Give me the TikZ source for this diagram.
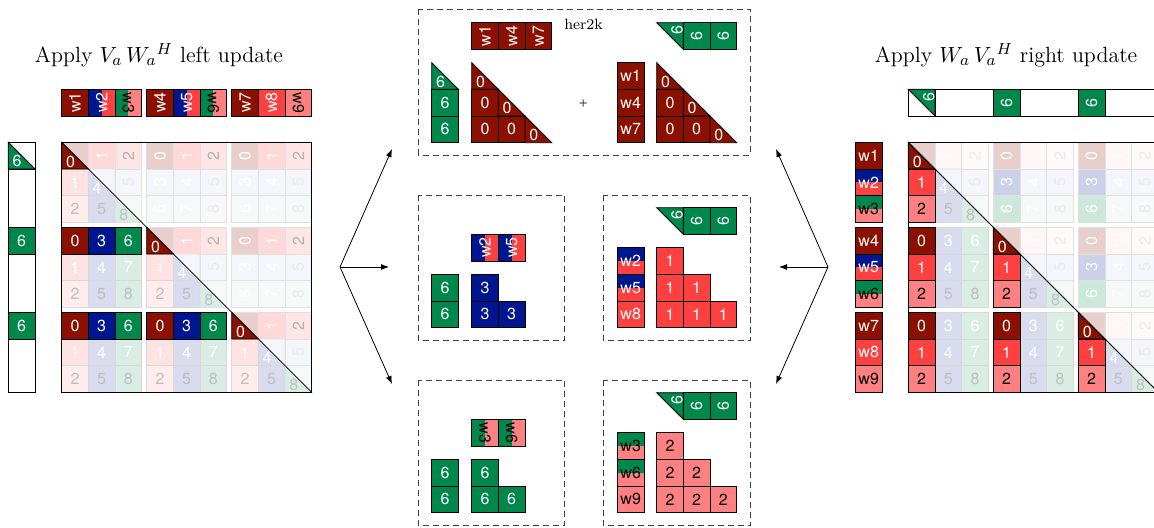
\documentclass[tikz,border=0pt]{standalone}
\usepackage{fontspec}
\newfontfamily\cellfont{TeX Gyre Heros}
\usetikzlibrary{arrows.meta}
\definecolor{dkred}{RGB}{139,16,0}
\definecolor{cblue}{RGB}{0,22,145}
\definecolor{cgreen}{RGB}{0,135,76}
\definecolor{cred}{RGB}{255,64,64}
\definecolor{cpink}{RGB}{255,128,128}
\newcommand\cfam[2]{\ifcase#2 \ifcase#1 dkred\or cred\else cpink\fi\or cblue\else cgreen\fi}
\tikzset{
  ctext/.style={font=\cellfont\fontsize{8}{9}\selectfont, inner sep=0pt},
  cellb/.style={draw=black, line width=0.4pt},
  panel/.style={draw=black!75, dash pattern=on 3pt off 2pt, line width=0.4pt},
  conn/.style={-{Latex[length=4pt,width=3pt]}, line width=0.4pt},
}
\newcommand\Cell[6]{%
 \draw[cellb,fill=#4] (#2,#3) rectangle ++(26.667,26.667);
 \node[ctext,text=#5] (#1) at ({#2+13.333},{#3+13.333}) {#6};}
\newcommand\RCell[7][90]{%
 \draw[cellb,fill=#5] (#3,#4) rectangle ++(26.667,26.667);
 \node[ctext,text=#6,rotate=#1] (#2) at ({#3+13.333},{#4+13.333}) {#7};}
\newcommand\VSplitCell[8][90]{%
 \fill[#5] (#3,#4) rectangle ++(13.333,26.667);
 \fill[#6] ({#3+13.333},#4) rectangle ++(13.333,26.667);
 \draw[cellb] (#3,#4) rectangle ++(26.667,26.667);
 \node[ctext,text=#7,rotate=#1] (#2) at ({#3+13.333},{#4+13.333}) {#8};}
\newcommand\HSplitCell[7]{%
 \fill[#4] (#2,#3) rectangle ++(26.667,13.333);
 \fill[#5] (#2,{#3+13.333}) rectangle ++(26.667,13.333);
 \draw[cellb] (#2,#3) rectangle ++(26.667,26.667);
 \node[ctext,text=#6] (#1) at ({#2+13.333},{#3+13.333}) {#7};}
\newcommand\TriLL[5]{%
 \draw[cellb,fill=#4] (#2,#3) -- ({#2+26.667},{#3+26.667}) -- (#2,{#3+26.667}) -- cycle;
 \node[ctext,text=white,anchor=base west] (#1) at ({#2+4},{#3+24.5}) {#5};}
\newcommand\TriUR[5]{%
 \draw[cellb,fill=#4] (#2,#3) -- ({#2+26.667},#3) -- ({#2+26.667},{#3+26.667}) -- cycle;
 \node[ctext,text=white,rotate=90] (#1) at ({#2+20.5},{#3+7.5}) {#5};}
% matrix: #1 X0, #2 Y0, #3 mode (0 left,1 right), #4 pass, #5 prefix
\newcommand\drawmatrix[5]{%
\foreach \ri in {0,...,8}{\foreach \ci in {0,...,8}{%
 \pgfmathtruncatemacro\rr{mod(\ri,3)}%
 \pgfmathtruncatemacro\cc{mod(\ci,3)}%
 \pgfmathsetmacro\xa{#1+\ci*26.667+int(\ci/3)*5}%
 \pgfmathsetmacro\ya{#2+\ri*26.667+int(\ri/3)*5}%
 \pgfmathsetmacro\xb{\xa+26.667}%
 \pgfmathsetmacro\yb{\ya+26.667}%
 \pgfmathsetmacro\xm{\xa+13.333}%
 \pgfmathsetmacro\ym{\ya+13.333}%
 \ifnum\ri>\ci\relax
   \pgfmathtruncatemacro\val{\rr+3*\cc}%
   \ifnum#3=0 \pgfmathtruncatemacro\isfull{\rr==0}\else\pgfmathtruncatemacro\isfull{\cc==0}\fi
   \ifnum\isfull=#4\relax
     \ifnum\isfull=1 \def\lvl{100}\def\tlvl{100}\def\dlvl{100}\else\def\lvl{15}\def\tlvl{25}\def\dlvl{15}\fi
     \edef\cname{\cfam{\rr}{\cc}}%
     \colorlet{cf}{\cname!\lvl!white}%
     \ifnum\rr=2 \colorlet{ct}{black!\tlvl!white}\else\colorlet{ct}{white}\fi
     \draw[line width=0.4pt,fill=cf,draw=black!\dlvl!white] (\xa,\ya) rectangle (\xb,\yb);
     \node[ctext,text=ct] (#5-\ri-\ci) at (\xm,\ym) {\val};
   \fi
 \else
  \ifnum\ri=\ci\relax
   \pgfmathtruncatemacro\val{4*\rr}%
   \edef\cname{\cfam{\rr}{\rr}}%
   \ifnum#4=0
     \ifnum\rr=0 \def\lvl{20}\else\def\lvl{4}\fi
     \colorlet{cf}{\cname!\lvl!white}%
     \draw[line width=0.4pt,fill=cf,draw=black!12!white] (\xa,\ya) -- (\xb,\ya) -- (\xb,\yb) -- cycle;
     \ifnum\rr>0
       \colorlet{cf}{\cname!15!white}%
       \ifnum\rr=2 \colorlet{ct}{black!25!white}\else\colorlet{ct}{white}\fi
       \draw[line width=0.4pt,fill=cf,draw=black!15!white] (\xa,\ya) -- (\xb,\yb) -- (\xa,\yb) -- cycle;
       \node[ctext,text=ct,anchor=base west] (#5-\ri-\ci) at (\xa+4,\yb-2) {\val};
     \fi
   \else
     \ifnum\rr=0
       \draw[line width=0.4pt,fill=\cname] (\xa,\ya) -- (\xb,\yb) -- (\xa,\yb) -- cycle;
       \node[ctext,text=white,anchor=base west] (#5-\ri-\ci) at (\xa+4,\yb-2) {\val};
     \fi
   \fi
  \else
   \ifnum#4=0
     \pgfmathtruncatemacro\val{\cc+3*\rr}%
     \ifnum#3=0 \pgfmathtruncatemacro\ismed{\rr==0}\else\pgfmathtruncatemacro\ismed{\cc==0}\fi
     \ifnum\ismed=1 \def\lvl{20}\def\tlvl{30}\else\def\lvl{4}\def\tlvl{8}\fi
     \edef\cname{\cfam{\cc}{\rr}}%
     \colorlet{cf}{\cname!\lvl!white}%
     \ifnum\cc=2 \colorlet{ct}{black!\tlvl!white}\else\colorlet{ct}{white}\fi
     \draw[line width=0.4pt,fill=cf,draw=black!12!white] (\xa,\ya) rectangle (\xb,\yb);
     \node[ctext,text=ct,rotate=90] (#5-\ri-\ci) at (\xm,\ym) {\val};
   \fi
  \fi
 \fi
}}}
\begin{document}
\begin{tikzpicture}[x=0.5pt,y=-0.5pt]
\useasboundingbox (0,0) rectangle (1154,527);
\clip (0,0) rectangle (1154,527);
% titles
\node[font=\fontsize{11}{13}\selectfont] (titleL) at (159,55) {Apply $V_a\,W_a{}^H$ left update};
\node[font=\fontsize{11}{13}\selectfont] (titleR) at (1006,55) {Apply $W_a\,V_a{}^H$ right update};

% ---------- left picture ----------
\drawmatrix{61.667}{142.333}{0}{0}{L}
\drawmatrix{61.667}{142.333}{0}{1}{L}
\draw[line width=0.4pt] (61.667,142.333) -- ++(250,250);
\draw[line width=0.8pt] (61.667,142.333) rectangle ++(250,250);
% top W row
\RCell{tw1}{61.667}{89.333}{dkred}{white}{w1}
\VSplitCell{tw2}{88.333}{89.333}{cblue}{cred}{white}{w2}
\VSplitCell[-90]{tw3}{115}{89.333}{cgreen}{cpink}{black}{w3}
\RCell{tw4}{146.667}{89.333}{dkred}{white}{w4}
\VSplitCell{tw5}{173.333}{89.333}{cblue}{cred}{white}{w5}
\VSplitCell[-90]{tw6}{200}{89.333}{cgreen}{cpink}{black}{w6}
\RCell{tw7}{231.667}{89.333}{dkred}{white}{w7}
\RCell{tw8}{258.333}{89.333}{cred}{white}{w8}
\RCell[-90]{tw9}{285}{89.333}{cpink}{black}{w9}
% left V column
\draw[cellb,fill=white] (8.333,142.333) rectangle (35,392.333);
\draw[cellb] (8.333,169) -- (35,169);
\TriLL{lv0}{8.333}{142.333}{cgreen}{6}
\Cell{lv3}{8.333}{227.333}{cgreen}{white}{6}
\Cell{lv6}{8.333}{312.333}{cgreen}{white}{6}

% ---------- right picture ----------
\drawmatrix{908.333}{142.333}{1}{0}{R}
\drawmatrix{908.333}{142.333}{1}{1}{R}
\draw[line width=0.4pt] (908.333,142.333) -- ++(250,250);
\draw[line width=0.8pt] (908.333,142.333) rectangle ++(250,250);
% right V row
\draw[cellb,fill=white] (908.333,89.333) rectangle (1158.333,116);
\draw[cellb] (935,89.333) -- (935,116);
\TriUR{rv0}{908.333}{89.333}{cgreen}{6}
\RCell{rv3}{993.333}{89.333}{cgreen}{white}{6}
\RCell{rv6}{1078.333}{89.333}{cgreen}{white}{6}
% right W column
\Cell{rw1}{855.333}{142.333}{dkred}{white}{w1}
\HSplitCell{rw2}{855.333}{169}{cblue}{cred}{white}{w2}
\HSplitCell{rw3}{855.333}{195.667}{cgreen}{cpink}{black}{w3}
\Cell{rw4}{855.333}{227.333}{dkred}{white}{w4}
\HSplitCell{rw5}{855.333}{254}{cblue}{cred}{white}{w5}
\HSplitCell{rw6}{855.333}{280.667}{cgreen}{cpink}{black}{w6}
\Cell{rw7}{855.333}{312.333}{dkred}{white}{w7}
\Cell{rw8}{855.333}{339}{cred}{white}{w8}
\Cell{rw9}{855.333}{365.667}{cpink}{black}{w9}

% ---------- panel 1 (her2k) ----------
\draw[panel] (418.333,9.333) rectangle (750,155);
\node[font=\fontsize{7.5}{9}\selectfont] (her) at (583.5,24) {her2k};
\RCell{p1t1}{471.667}{22.667}{dkred}{white}{w1}
\RCell{p1t2}{498.333}{22.667}{dkred}{white}{w4}
\RCell{p1t3}{525}{22.667}{dkred}{white}{w7}
\TriUR{p1g0}{656.667}{22.667}{cgreen}{6}
\RCell{p1g1}{683.333}{22.667}{cgreen}{white}{6}
\RCell{p1g2}{710}{22.667}{cgreen}{white}{6}
\TriLL{p1v0}{431.667}{62.667}{cgreen}{6}
\Cell{p1v1}{431.667}{89.333}{cgreen}{white}{6}
\Cell{p1v2}{431.667}{116}{cgreen}{white}{6}
\TriLL{p1a00}{471.667}{62.667}{dkred}{0}
\Cell{p1a10}{471.667}{89.333}{dkred}{white}{0}
\TriLL{p1a11}{498.333}{89.333}{dkred}{0}
\Cell{p1a20}{471.667}{116}{dkred}{white}{0}
\Cell{p1a21}{498.333}{116}{dkred}{white}{0}
\TriLL{p1a22}{525}{116}{dkred}{0}
\node[ctext,text=black!70] (plus) at (583.3,104) {+};
\Cell{p1w1}{617.333}{62.667}{dkred}{white}{w1}
\Cell{p1w4}{617.333}{89.333}{dkred}{white}{w4}
\Cell{p1w7}{617.333}{116}{dkred}{white}{w7}
\TriLL{p1b00}{656.667}{62.667}{dkred}{0}
\Cell{p1b10}{656.667}{89.333}{dkred}{white}{0}
\TriLL{p1b11}{683.333}{89.333}{dkred}{0}
\Cell{p1b20}{656.667}{116}{dkred}{white}{0}
\Cell{p1b21}{683.333}{116}{dkred}{white}{0}
\TriLL{p1b22}{710}{116}{dkred}{0}

% ---------- panel 2 ----------
\draw[panel] (418.333,195) rectangle (564.333,340.667);
\VSplitCell{p2t1}{471.667}{234.333}{cblue}{cred}{white}{w2}
\VSplitCell{p2t2}{498.333}{234.333}{cblue}{cred}{white}{w5}
\Cell{p2v1}{431.667}{274.333}{cgreen}{white}{6}
\Cell{p2v2}{431.667}{301}{cgreen}{white}{6}
\Cell{p2a0}{471.667}{274.333}{cblue}{white}{3}
\Cell{p2a1}{471.667}{301}{cblue}{white}{3}
\Cell{p2a2}{498.333}{301}{cblue}{white}{3}

% ---------- panel 3 ----------
\draw[panel] (603.333,195) rectangle (750,340.667);
\TriUR{p3g0}{656.667}{207.667}{cgreen}{6}
\RCell{p3g1}{683.333}{207.667}{cgreen}{white}{6}
\RCell{p3g2}{710}{207.667}{cgreen}{white}{6}
\HSplitCell{p3w2}{617.333}{247.667}{cblue}{cred}{white}{w2}
\HSplitCell{p3w5}{617.333}{274.333}{cblue}{cred}{white}{w5}
\Cell{p3w8}{617.333}{301}{cred}{white}{w8}
\Cell{p3a00}{656.667}{247.667}{cred}{white}{1}
\Cell{p3a10}{656.667}{274.333}{cred}{white}{1}
\Cell{p3a11}{683.333}{274.333}{cred}{white}{1}
\Cell{p3a20}{656.667}{301}{cred}{white}{1}
\Cell{p3a21}{683.333}{301}{cred}{white}{1}
\Cell{p3a22}{710}{301}{cred}{white}{1}

% ---------- panel 4 ----------
\draw[panel] (418.333,380) rectangle (564.333,525.667);
\VSplitCell[-90]{p4t1}{471.667}{419.333}{cgreen}{cpink}{black}{w3}
\VSplitCell[-90]{p4t2}{498.333}{419.333}{cgreen}{cpink}{black}{w6}
\Cell{p4v1}{431.667}{459.333}{cgreen}{white}{6}
\Cell{p4v2}{431.667}{486}{cgreen}{white}{6}
\Cell{p4a0}{471.667}{459.333}{cgreen}{white}{6}
\Cell{p4a1}{471.667}{486}{cgreen}{white}{6}
\Cell{p4a2}{498.333}{486}{cgreen}{white}{6}

% ---------- panel 5 ----------
\draw[panel] (603.333,380) rectangle (750,525.667);
\TriUR{p5g0}{656.667}{392.667}{cgreen}{6}
\RCell{p5g1}{683.333}{392.667}{cgreen}{white}{6}
\RCell{p5g2}{710}{392.667}{cgreen}{white}{6}
\HSplitCell{p5w3}{617.333}{432.667}{cgreen}{cpink}{black}{w3}
\HSplitCell{p5w6}{617.333}{459.333}{cgreen}{cpink}{black}{w6}
\Cell{p5w9}{617.333}{486}{cpink}{black}{w9}
\Cell{p5a00}{656.667}{432.667}{cpink}{black}{2}
\Cell{p5a10}{656.667}{459.333}{cpink}{black}{2}
\Cell{p5a11}{683.333}{459.333}{cpink}{black}{2}
\Cell{p5a20}{656.667}{486}{cpink}{black}{2}
\Cell{p5a21}{683.333}{486}{cpink}{black}{2}
\Cell{p5a22}{710}{486}{cpink}{black}{2}

% ---------- arrows ----------
\coordinate (hubL) at (340,267);
\coordinate (aL1) at (392,149);
\coordinate (aL2) at (389,267);
\coordinate (aL3) at (392,384);
\coordinate (hubR) at (828,267);
\coordinate (aR1) at (776,149);
\coordinate (aR2) at (779,267);
\coordinate (aR3) at (776,384);
\draw[conn] (hubL) -- (aL1);
\draw[conn] (hubL) -- (aL2);
\draw[conn] (hubL) -- (aL3);
\draw[conn] (hubR) -- (aR1);
\draw[conn] (hubR) -- (aR2);
\draw[conn] (hubR) -- (aR3);
\end{tikzpicture}
\end{document}
